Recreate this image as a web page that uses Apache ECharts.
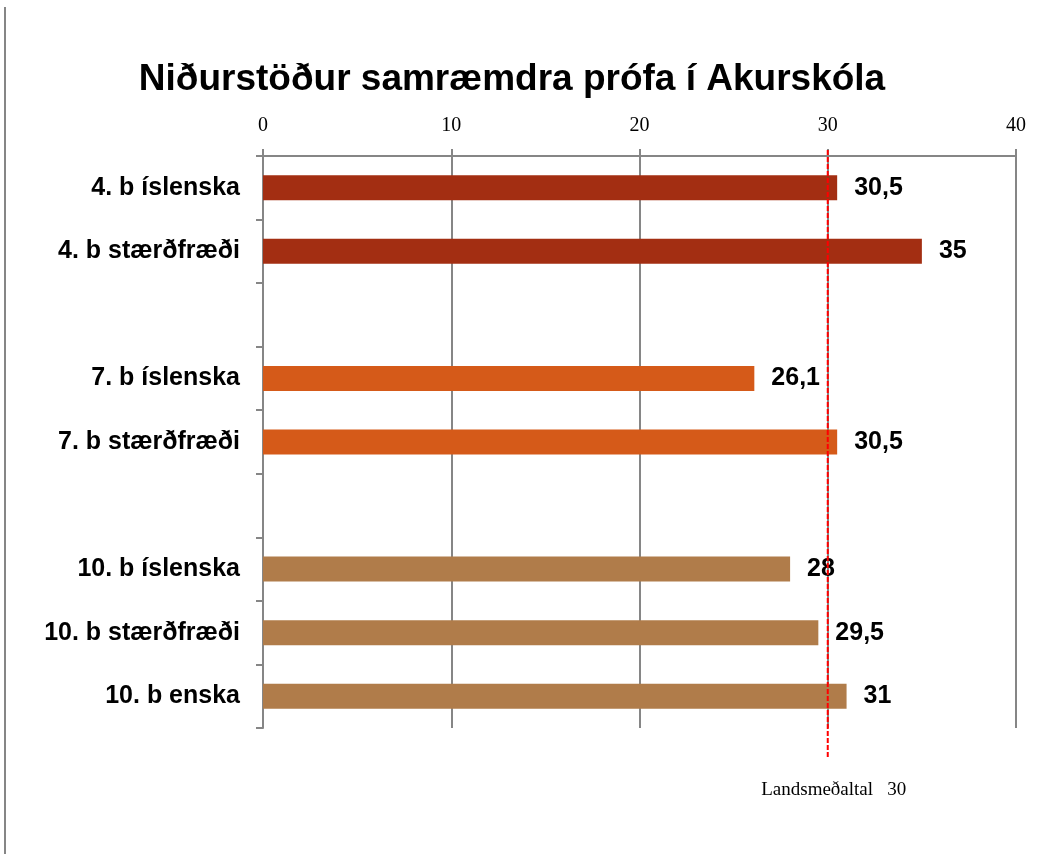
<!DOCTYPE html>
<html>
<head>
<meta charset="utf-8">
<script src="https://cdn.jsdelivr.net/npm/echarts@6/dist/echarts.min.js"></script>
<style>
  html, body { margin: 0; padding: 0; background: #fff; }
  #chart { width: 1058px; height: 854px; }
</style>
</head>
<body>
<div id="chart"></div>
<script>
// gögn
var categories = ['4. b íslenska', '4. b stærðfræði', ' ', '7. b íslenska', '7. b stærðfræði', '  ', '10. b íslenska', '10. b stærðfræði', '10. b enska'];
var values = [30.5, 35, null, 26.1, 30.5, null, 28, 29.5, 31];
var barColors = ['#A32E12', '#A32E12', null, '#D55A19', '#D55A19', null, '#B07C4A', '#B07C4A', '#B07C4A'];
var xTicks = [0, 10, 20, 30, 40];
var average = 30;
var averageLabel = 'Landsmeðaltal   30';

var gray = '#868686';
var chart = echarts.init(document.getElementById('chart'));

var option = {
  animation: false,
  backgroundColor: '#fff',
  title: {
    text: 'Niðurstöður samræmdra prófa í Akurskóla',
    left: 507, top: 56, textAlign: 'center',
    textStyle: { fontFamily: 'Liberation Sans, Arial', fontWeight: 'bold', fontSize: 37, color: '#000' }
  },
  grid: { left: 263, right: 42, top: 156, bottom: 126 },
  xAxis: {
    type: 'value', position: 'top',
    min: xTicks[0], max: xTicks[xTicks.length - 1], interval: 10,
    axisLine: { show: true, lineStyle: { color: gray, width: 2 } },
    axisTick: { show: true, length: 7, lineStyle: { color: gray, width: 2 } },
    splitLine: { show: true, lineStyle: { color: gray, width: 2 } },
    axisLabel: { margin: 20, fontFamily: 'Liberation Serif, DejaVu Serif', fontSize: 20, color: '#000' }
  },
  yAxis: {
    type: 'category', inverse: true, data: categories,
    axisLine: { show: true, lineStyle: { color: gray, width: 2 } },
    axisTick: { show: true, length: 7, interval: 0, lineStyle: { color: gray, width: 2 } },
    axisLabel: { margin: 23, fontFamily: 'Liberation Sans, Arial', fontWeight: 'bold', fontSize: 25, color: '#000' }
  },
  series: [{
    type: 'bar',
    barWidth: 25,
    data: values.map(function (v, i) {
      return { value: v, itemStyle: { color: barColors[i] } };
    }),
    label: {
      show: true, position: 'right', distance: 17,
      fontFamily: 'Liberation Sans, Arial', fontWeight: 'bold', fontSize: 25, color: '#000',
      formatter: function (p) { return String(p.value).replace('.', ','); }
    }
  }]
};
chart.setOption(option);

// lóðrétt lína fyrir landsmeðaltal
var x30 = chart.convertToPixel({ xAxisIndex: 0 }, average);
chart.setOption({
  graphic: [
    { type: 'line', shape: { x1: 5, y1: 7, x2: 5, y2: 854 }, style: { stroke: gray, lineWidth: 2 } },
    { type: 'line', shape: { x1: x30, y1: 150, x2: x30, y2: 758 },
      style: { stroke: '#FF0000', lineWidth: 2, lineDash: [5, 2] }, z: 10 },
    { type: 'text', x: x30 + 6, y: 790,
      style: { text: averageLabel, textAlign: 'center', textVerticalAlign: 'middle', fill: '#000',
        font: '19px "Liberation Serif", "DejaVu Serif"' } }
  ]
});
</script>
</body>
</html>
